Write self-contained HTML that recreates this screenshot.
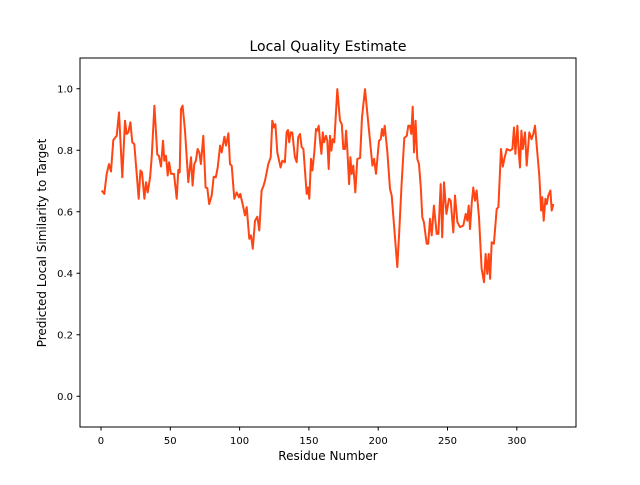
<!DOCTYPE html>
<html><head><meta charset="utf-8"><style>
body{margin:0;background:#fff;}
svg text{font-family:"DejaVu Sans","Liberation Sans",sans-serif;fill:#000;}
</style></head><body>
<svg id="chart" width="640" height="480" xmlns="http://www.w3.org/2000/svg">
<rect width="640" height="480" fill="#fff"/>
<text x="328" y="51" font-size="14" text-anchor="middle">Local Quality Estimate</text>
<text x="328" y="460" font-size="12" text-anchor="middle">Residue Number</text>
<text x="46" y="243" font-size="12" text-anchor="middle" transform="rotate(-90 46 243)">Predicted Local Similarity to Target</text>
<g id="xticks"></g>
<g id="yticks"></g>
<path id="line" fill="none" stroke="#ff4513" stroke-width="2" stroke-linejoin="round"/>
<rect x="80" y="58" width="496" height="369" fill="none" stroke="#000" stroke-width="1"/>
</svg>
<script>
const residues=[0.5,2.4,4.1,5.8,7.2,8.9,11.3,13,15.4,17.3,18.5,19.7,21.2,22.6,24,27.2,28.4,29.6,31.3,32.5,33.7,35.4,36.6,38.5,40.6,41.8,43.3,44.7,45.7,46.9,48.1,49.1,50.5,52.7,54.6,55.8,56.8,57.7,58.9,60.6,63,64.9,66.1,67.3,68.5,69.7,70.9,72.1,73.8,75.5,76.7,78.1,79.9,81.3,82.8,84.2,85.9,87.1,89,90.2,91.9,93.1,94.3,96.2,97.9,99.6,100.5,102.7,103.9,105.1,107,108.2,109.5,111.1,112.8,114.2,115.9,117.1,118.3,120.7,122.4,123.6,124.8,125.8,127.2,129.6,130.8,132.7,133.9,134.9,135.8,136.8,138,139.9,141.2,142.3,143.6,144.8,146,148.4,149.4,150.3,151.5,152.5,153.9,155.1,156.1,157.1,158,159,160,160.9,162.3,163.3,164.3,165.2,166.2,167.2,168.3,170.5,172.4,173.7,174.8,176,176.8,177.7,179,179.9,180.9,182,183.5,184.9,186.9,188.3,190.5,192.2,194.1,195.8,197,198.4,200.6,201.8,202.7,203.7,204.7,206.6,208.5,209.7,213.8,215.2,216.9,218.8,220.6,221.7,222.9,223.9,224.9,225.8,227,228.2,229.4,230.7,231.8,233,235,236.1,237.4,238.6,240.2,242.2,243.4,245.1,246.2,247.5,249.2,251.1,252.3,254.2,255.4,257.1,259,261.4,263.1,264.3,265.3,266.2,267.5,268.6,269.8,271,272.7,274.6,276.3,277.5,278.7,279.7,280.7,281.9,283.5,285.5,286.7,288.6,289.9,291,292.8,295.1,296.8,298,299,300.4,301.4,302.3,303.3,304.3,305.9,307.1,309,310.7,311.9,313.1,316.2,317.5,318.4,319.4,320.6,321.6,322.7,324.2,325.2,326.4];
const quality=[0.669,0.658,0.723,0.755,0.731,0.833,0.847,0.923,0.712,0.896,0.853,0.858,0.891,0.826,0.82,0.642,0.734,0.728,0.642,0.696,0.663,0.712,0.777,0.945,0.786,0.782,0.747,0.831,0.766,0.782,0.718,0.761,0.723,0.723,0.642,0.736,0.728,0.934,0.945,0.864,0.696,0.777,0.685,0.755,0.766,0.804,0.793,0.755,0.847,0.679,0.677,0.625,0.653,0.714,0.712,0.744,0.815,0.793,0.844,0.815,0.855,0.755,0.75,0.642,0.663,0.647,0.658,0.615,0.588,0.615,0.512,0.523,0.48,0.571,0.584,0.539,0.669,0.682,0.701,0.755,0.777,0.896,0.874,0.885,0.793,0.744,0.766,0.761,0.858,0.866,0.826,0.858,0.858,0.777,0.761,0.842,0.853,0.81,0.804,0.658,0.679,0.642,0.772,0.734,0.793,0.869,0.864,0.88,0.831,0.788,0.858,0.826,0.847,0.831,0.739,0.847,0.799,0.836,0.826,0.999,0.896,0.885,0.804,0.804,0.864,0.804,0.69,0.777,0.723,0.75,0.663,0.772,0.775,0.907,0.999,0.918,0.831,0.75,0.772,0.723,0.831,0.836,0.869,0.847,0.88,0.793,0.674,0.653,0.42,0.539,0.69,0.84,0.847,0.88,0.88,0.853,0.942,0.793,0.896,0.772,0.755,0.679,0.582,0.566,0.496,0.496,0.577,0.523,0.62,0.528,0.528,0.69,0.517,0.696,0.593,0.642,0.636,0.533,0.653,0.566,0.55,0.555,0.593,0.571,0.62,0.544,0.631,0.679,0.636,0.669,0.582,0.415,0.371,0.463,0.398,0.463,0.382,0.501,0.496,0.609,0.615,0.804,0.747,0.772,0.804,0.799,0.804,0.874,0.788,0.88,0.793,0.744,0.864,0.804,0.858,0.75,0.858,0.836,0.853,0.88,0.718,0.604,0.647,0.571,0.642,0.625,0.653,0.669,0.604,0.625];
const xTicks=[0,50,100,150,200,250,300];
const yTicks=[0.0,0.2,0.4,0.6,0.8,1.0];
const L=80,R=576,T=58,B=427,X0=-15.15,X1=342.7,Y0=-0.1,Y1=1.1;
const sx=v=>L+(v-X0)/(X1-X0)*(R-L);
const sy=v=>B-(v-Y0)/(Y1-Y0)*(B-T);
const NS='http://www.w3.org/2000/svg';
const xg=document.getElementById('xticks'),yg=document.getElementById('yticks');
xTicks.forEach(t=>{
  const x=sx(t);
  const l=document.createElementNS(NS,'line');
  l.setAttribute('x1',x);l.setAttribute('x2',x);l.setAttribute('y1',B);l.setAttribute('y2',B+3.5);l.setAttribute('stroke','#000');
  
  
  xg.appendChild(l);
  const tx=document.createElementNS(NS,'text');
  tx.setAttribute('x',x);tx.setAttribute('y',B+17);tx.setAttribute('font-size','10');tx.setAttribute('text-anchor','middle');
  tx.textContent=t;
  
  
  xg.appendChild(tx);
});
yTicks.forEach(t=>{
  const y=sy(t);
  const l=document.createElementNS(NS,'line');
  l.setAttribute('x1',L-3.5);l.setAttribute('x2',L);l.setAttribute('y1',y);l.setAttribute('y2',y);l.setAttribute('stroke','#000');
  
  
  yg.appendChild(l);
  const tx=document.createElementNS(NS,'text');
  tx.setAttribute('x',L-7);tx.setAttribute('y',y+3.5);tx.setAttribute('font-size','10');tx.setAttribute('text-anchor','end');
  tx.textContent=t.toFixed(1);
  
  
  yg.appendChild(tx);
});
document.getElementById('line').setAttribute('d',residues.map((r,i)=>(i?'L':'M')+sx(r).toFixed(1)+' '+sy(quality[i]).toFixed(1)).join(' '));
</script>
</body></html>
